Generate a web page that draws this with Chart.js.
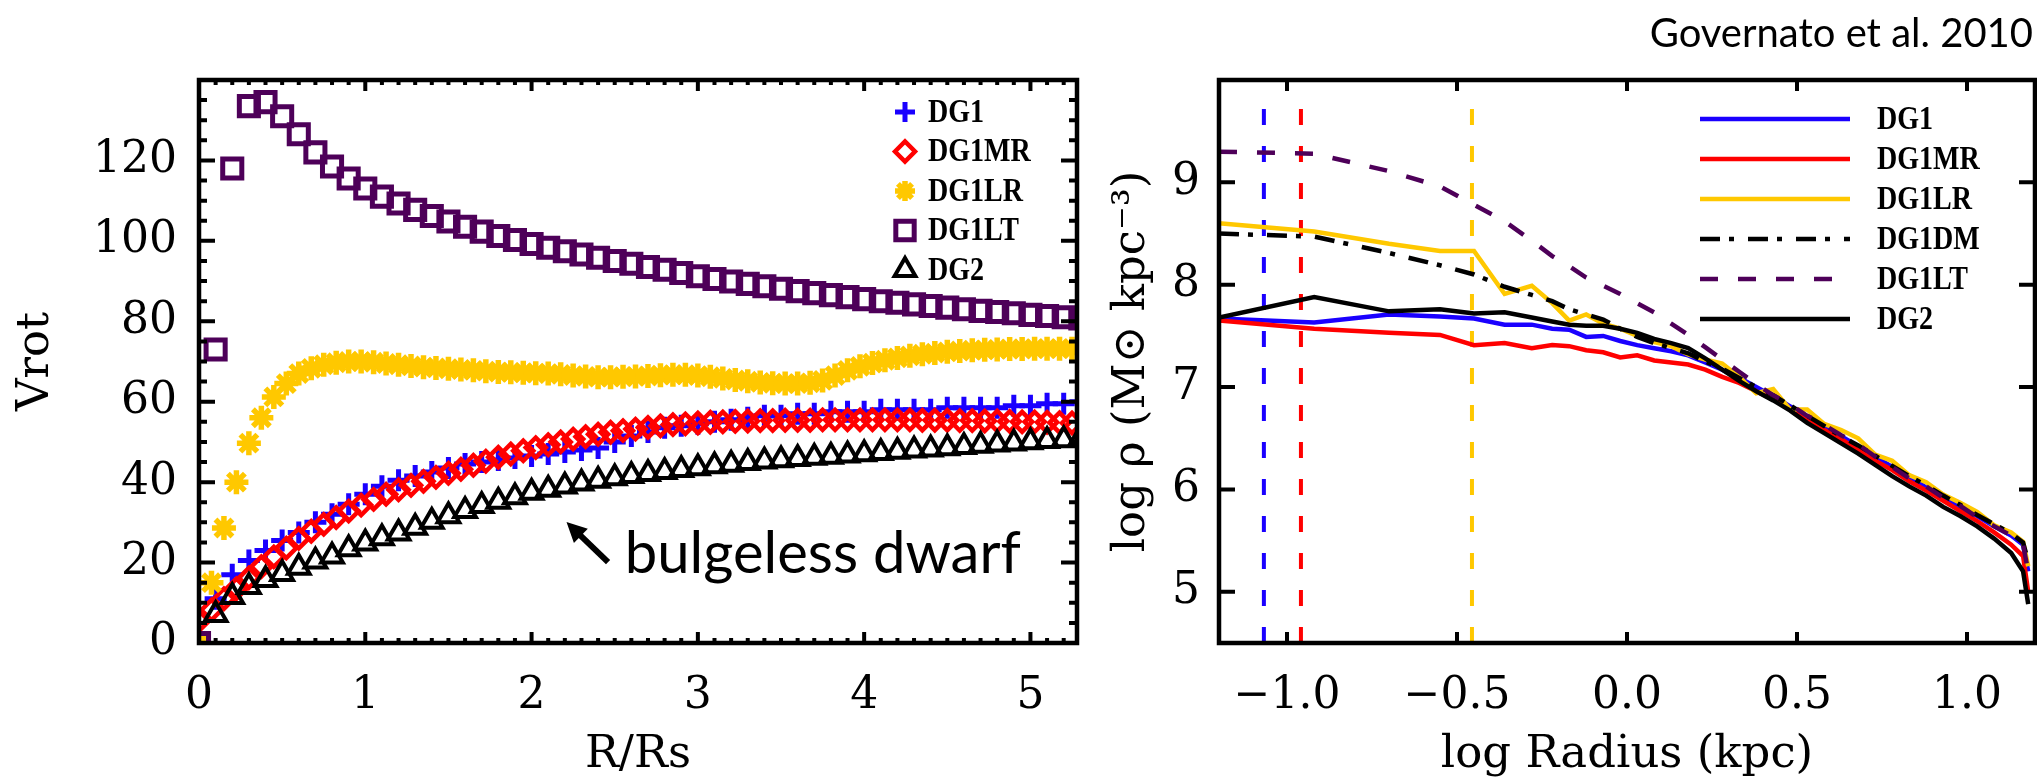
<!DOCTYPE html>
<html>
<head>
<meta charset="utf-8">
<script src="https://cdn.jsdelivr.net/npm/chart.js@4.4.0/dist/chart.umd.min.js"></script>
<style>
  html, body { margin: 0; padding: 0; background: #fff; }
  #wrap { position: relative; width: 2037px; height: 778px; overflow: hidden; }
  canvas { position: absolute; top: 0; }
  #left { left: 0; }
  #right { left: 1100px; }
</style>
</head>
<body>
<div id="wrap">
  <canvas id="left" width="1100" height="778"></canvas>
  <canvas id="right" width="937" height="778"></canvas>
</div>
<script>
// ---------- left panel: rotation curves (Vrot vs R/Rs) ----------
const rGrid = [0, 0.1, 0.2, 0.3, 0.4, 0.5, 0.6, 0.7, 0.8, 0.9, 1.0, 1.1, 1.2, 1.3, 1.4, 1.5, 1.6, 1.7, 1.8, 1.9,
  2.0, 2.1, 2.2, 2.3, 2.4, 2.5, 2.6, 2.7, 2.8, 2.9, 3.0, 3.1, 3.2, 3.3, 3.4, 3.5, 3.6, 3.7, 3.8, 3.9,
  4.0, 4.1, 4.2, 4.3, 4.4, 4.5, 4.6, 4.7, 4.8, 4.9, 5.0, 5.1, 5.2, 5.3];
const rGridFine = [0, 0.075, 0.15, 0.225, 0.3, 0.375, 0.45, 0.525, 0.6, 0.675, 0.75, 0.825, 0.9, 0.975,
  1.05, 1.125, 1.2, 1.275, 1.35, 1.425, 1.5, 1.575, 1.65, 1.725, 1.8, 1.875, 1.95, 2.025, 2.1, 2.175,
  2.25, 2.325, 2.4, 2.475, 2.55, 2.625, 2.7, 2.775, 2.85, 2.925, 3.0, 3.075, 3.15, 3.225, 3.3, 3.375,
  3.45, 3.525, 3.6, 3.675, 3.75, 3.825, 3.9, 3.975, 4.05, 4.125, 4.2, 4.275, 4.35, 4.425, 4.5, 4.575,
  4.65, 4.725, 4.8, 4.875, 4.95, 5.025, 5.1, 5.175, 5.25];

const vDG1 = [null, 11, 17, 20.5, 23, 25.5, 27.5, 30, 32, 34.5, 37, 39, 40.5, 41.5, 42.5, 43.5, 44.5, 45, 45.5, 46,
  46.5, 47, 47.5, 48, 48.5, 50, 51.5, 52.5, 53.5, 54, 54.5, 55, 55.5, 56, 56.5, 56.5, 57, 57, 57.5, 57.5,
  57.5, 58, 58, 58, 58, 58.5, 58.5, 58.5, 58.5, 59, 59, 59.5, 59.5, 60];
const vDG1MR = [5.5, 8.2, 11, 13.5, 16.2, 19, 21.4, 23.6, 26, 27.8, 29.5, 31.2, 32.8, 34.3,
  35.7, 37, 38.1, 39.2, 40.2, 41.2, 42.2, 43.2, 44.2, 45.2, 46.2, 47, 47.8, 48.6, 49.3, 50,
  50.7, 51.3, 51.9, 52.4, 52.8, 53.2, 53.6, 54, 54.3, 54.5, 54.7, 54.9, 55, 55.1, 55.2, 55.3,
  55.3, 55.4, 55.4, 55.4, 55.5, 55.5, 55.5, 55.5, 55.5, 55.5, 55.5, 55.5, 55.4, 55.4, 55.4, 55.3,
  55.3, 55.2, 55.2, 55.1, 55, 55, 54.9, 54.8, 54.7];
const vDG1LR = [0, 15, 28.6, 40, 49.7, 56, 61.2, 64.5, 67, 68.3, 69.2, 69.7, 70, 70,
  69.8, 69.5, 69.2, 68.9, 68.6, 68.4, 68.2, 68, 67.8, 67.6, 67.4, 67.3, 67.2, 67.1, 67, 66.8,
  66.5, 66.3, 66.1, 66.1, 66.2, 66.3, 66.4, 66.6, 66.7, 66.7, 66.5, 66.2, 65.8, 65.4, 65.1, 64.8,
  64.6, 64.5, 64.5, 64.7, 65.3, 66.5, 67.8, 68.8, 69.6, 70.3, 70.9, 71.4, 71.8, 72.1, 72.4, 72.6,
  72.8, 72.9, 73, 73.1, 73.1, 73.2, 73.2, 73.2, 73.2];
const vDG1LT = [0, 73, 118, 133.5, 134.5, 131, 126.5, 122, 118.5, 115.5, 113, 111, 109.3, 107.7, 106.2, 104.8,
  103.5, 102.3, 101.2, 100.2, 99.2, 98.3, 97.4, 96.6, 95.8, 95, 94.3, 93.5, 92.8, 92, 91.2, 90.5,
  89.9, 89.3, 88.7, 88.1, 87.5, 87, 86.5, 86, 85.5, 85, 84.6, 84.2, 83.8, 83.4, 83, 82.6, 82.3, 82,
  81.6, 81.3, 81, 80.7];
const vDG2 = [null, 7, 11.5, 14, 15.7, 17.2, 18.8, 20.3, 21.6, 23.4, 24.8, 26.1, 27.3, 28.7, 30.2, 31.6,
  32.9, 34.1, 35.2, 36.3, 37.4, 38.2, 39, 39.7, 40.4, 41, 41.6, 42.1, 42.6, 43.1, 43.5, 44, 44.4,
  44.8, 45.2, 45.5, 45.8, 46.1, 46.4, 46.7, 47, 47.3, 47.6, 47.9, 48.2, 48.5, 48.8, 49.1, 49.4,
  49.7, 50, 50.3, 50.5, 50.8];

const leftXTicks = [0, 1, 2, 3, 4, 5];
const leftYTicks = [0, 20, 40, 60, 80, 100, 120];

// ---------- right panel: density profiles (log rho vs log R) ----------
const logR = [-1.2, -0.92, -0.7, -0.55, -0.45, -0.36, -0.28, -0.22, -0.17, -0.12, -0.07, -0.02, 0.03, 0.08,
  0.13, 0.18, 0.23, 0.28, 0.33, 0.38, 0.43, 0.48, 0.53, 0.58, 0.63, 0.68, 0.73, 0.78, 0.83, 0.88,
  0.93, 0.98, 1.03, 1.08, 1.13, 1.165, 1.18];
const rhoDG1 = [7.67, 7.63, 7.71, 7.69, 7.67, 7.61, 7.61, 7.57, 7.56, 7.49, 7.50, 7.45, 7.41, 7.38, 7.35, 7.31,
  7.24, 7.17, 7.09, 7.0, 6.91, 6.81, 6.71, 6.61, 6.52, 6.42, 6.32, 6.22, 6.12, 6.02, 5.93, 5.83, 5.74,
  5.64, 5.55, 5.46, 5.2];
const rhoDG1MR = [7.65, 7.57, 7.53, 7.51, 7.41, 7.43, 7.38, 7.41, 7.40, 7.36, 7.34, 7.29, 7.31, 7.26, 7.24,
  7.22, 7.17, 7.1, 7.04, 6.96, 6.88, 6.79, 6.69, 6.58, 6.49, 6.39, 6.28, 6.19, 6.08, 5.99, 5.89, 5.79,
  5.69, 5.58, 5.46, 5.35, 5.0];
const rhoDG1LR = [8.60, 8.52, 8.40, 8.33, 8.33, 7.91, 7.99, 7.82, 7.65, 7.71, 7.62, 7.57, 7.5, 7.44, 7.40,
  7.32, 7.27, 7.23, 7.1, 6.94, 6.98, 6.78, 6.78, 6.64, 6.58, 6.5, 6.34, 6.28, 6.14, 6.07, 5.95, 5.87,
  5.78, 5.65, 5.58, 5.49, 5.25];
const rhoDG1DM = [8.50, 8.47, 8.31, 8.19, 8.10, 7.98, 7.90, 7.84, 7.76, 7.71, 7.66, 7.57, 7.49, 7.43, 7.38,
  7.33, 7.25, 7.18, 7.09, 7.0, 6.92, 6.82, 6.72, 6.62, 6.52, 6.43, 6.33, 6.23, 6.13, 6.04, 5.94, 5.85,
  5.75, 5.66, 5.57, 5.48, 5.3];
const rhoDG1LT = [9.30, 9.28, 9.11, 8.96, 8.78, 8.62, 8.43, 8.28, 8.18, 8.07, 7.99, 7.91, 7.82, 7.73, 7.62,
  7.51, 7.39, 7.27, 7.15, 7.03, 6.92, 6.83, 6.72, 6.63, 6.53, 6.44, 6.32, 6.22, 6.11, 6.03, 5.92, 5.84,
  5.73, 5.64, 5.55, 5.46, 5.2];
const rhoDG2 = [7.68, 7.88, 7.74, 7.76, 7.72, 7.73, 7.68, 7.64, 7.61, 7.60, 7.60, 7.57, 7.53, 7.47, 7.43,
  7.38, 7.28, 7.17, 7.06, 6.96, 6.87, 6.77, 6.65, 6.55, 6.45, 6.35, 6.24, 6.13, 6.03, 5.94, 5.83, 5.74,
  5.64, 5.52, 5.38, 5.2, 4.88];

// softening lengths (vertical dashed lines): DG1, DG1MR, DG1LR
const softX = [-1.068, -0.959, -0.456];
const softY = [4.5, 9.85];

const rightXTicks = [-1, -0.5, 0, 0.5, 1];
const rightXLabels = ['\u22121.0', '\u22120.5', '0.0', '0.5', '1.0'];
const rightYTicks = [5, 6, 7, 8, 9];

// colours
const BLUE = '#1a00ff';
const RED = '#ff0000';
const YELLOW = '#ffc800';
const PURPLE = '#4e0059';
const BLACK = '#000000';

const serif = '"DejaVu Serif", "Liberation Serif", serif';
const tickFont = { family: serif, size: 44, lineHeight: 1 };
const titleFont = { family: serif, size: 45, lineHeight: 1 };

function pts(xs, ys) {
  return xs.map((x, i) => ({ x: x, y: ys[i] }));
}

// box + inward ticks on all four sides, IDL style
function framePlugin(spec) {
  return {
    id: 'frame',
    afterDatasetsDraw(chart) {
      const { ctx, chartArea: a } = chart;
      const xs = chart.scales.x, ys = chart.scales.y;
      ctx.save();
      ctx.strokeStyle = '#000';
      ctx.lineWidth = 4;
      ctx.lineCap = 'butt';
      ctx.beginPath();
      const xt = (vals, len) => vals.forEach(v => {
        const p = xs.getPixelForValue(v);
        ctx.moveTo(p, a.bottom); ctx.lineTo(p, a.bottom - len);
        ctx.moveTo(p, a.top); ctx.lineTo(p, a.top + len);
      });
      const yt = (vals, len) => vals.forEach(v => {
        const p = ys.getPixelForValue(v);
        ctx.moveTo(a.left, p); ctx.lineTo(a.left + len, p);
        ctx.moveTo(a.right, p); ctx.lineTo(a.right - len, p);
      });
      xt(spec.xMajor, spec.xLen);
      yt(spec.yMajor, spec.yLen);
      if (spec.xMinorStep) {
        const minor = [];
        for (let v = xs.min; v <= xs.max + 1e-9; v += spec.xMinorStep) minor.push(Math.round(v * 1000) / 1000);
        xt(minor, spec.xMinLen);
      }
      if (spec.yMinorStep) {
        const minor = [];
        for (let v = ys.min; v <= ys.max + 1e-9; v += spec.yMinorStep) minor.push(v);
        yt(minor, spec.yMinLen);
      }
      ctx.stroke();
      ctx.lineWidth = 4.5;
      ctx.strokeRect(a.left, a.top, a.right - a.left, a.bottom - a.top);
      ctx.restore();
    }
  };
}

function drawLegendText(ctx, text, x, y) {
  ctx.save();
  ctx.translate(x, y);
  ctx.scale(0.85, 1);
  ctx.font = 'bold 33px "Liberation Serif", serif';
  ctx.fillStyle = '#000';
  ctx.textAlign = 'left';
  ctx.textBaseline = 'middle';
  ctx.fillText(text, 0, 1);
  ctx.restore();
}

const leftLegend = {
  id: 'leftLegend',
  afterDraw(chart) {
    const ctx = chart.ctx;
    chart.data.datasets.forEach((ds, i) => {
      const y = 112 + i * 39.5;
      ctx.save();
      ctx.strokeStyle = ds.borderColor;
      ctx.fillStyle = 'rgba(0,0,0,0)';
      ctx.lineWidth = ds.pointBorderWidth;
      Chart.helpers.drawPoint(ctx, {
        pointStyle: ds.pointStyle, radius: ds.legendRadius, borderWidth: ds.pointBorderWidth, rotation: 0
      }, 905, y);
      ctx.restore();
      drawLegendText(ctx, ds.label, 928, y);
    });
  }
};

const dwarfNote = {
  id: 'dwarfNote',
  afterDraw(chart) {
    const { ctx } = chart;
    const xs = chart.scales.x, ys = chart.scales.y;
    const tipX = xs.getPixelForValue(2.21), tipY = ys.getPixelForValue(30.1);
    const tailX = xs.getPixelForValue(2.46), tailY = ys.getPixelForValue(20.1);
    const ang = Math.atan2(tipY - tailY, tipX - tailX);
    ctx.save();
    ctx.strokeStyle = '#000';
    ctx.fillStyle = '#000';
    ctx.lineWidth = 6;
    ctx.beginPath();
    ctx.moveTo(tailX, tailY);
    ctx.lineTo(tipX - 12 * Math.cos(ang), tipY - 12 * Math.sin(ang));
    ctx.stroke();
    ctx.beginPath();
    ctx.moveTo(tipX, tipY);
    ctx.lineTo(tipX - 20 * Math.cos(ang) + 10 * Math.sin(ang), tipY - 20 * Math.sin(ang) - 10 * Math.cos(ang));
    ctx.lineTo(tipX - 20 * Math.cos(ang) - 10 * Math.sin(ang), tipY - 20 * Math.sin(ang) + 10 * Math.cos(ang));
    ctx.closePath();
    ctx.fill();
    ctx.font = '58px Lato, "Open Sans", sans-serif';
    ctx.textAlign = 'left';
    ctx.textBaseline = 'alphabetic';
    ctx.fillText('bulgeless dwarf', xs.getPixelForValue(2.56), ys.getPixelForValue(17.4));
    ctx.restore();
  }
};

const leftChart = new Chart(document.getElementById('left'), {
  type: 'scatter',
  data: {
    datasets: [
      { label: 'DG1', data: pts(rGrid, vDG1), pointStyle: 'cross', pointRadius: 11, legendRadius: 10, pointBorderWidth: 5,
        borderColor: BLUE, backgroundColor: 'rgba(0,0,0,0)', order: 4, clip: 0 },
      { label: 'DG1MR', data: pts(rGridFine, vDG1MR), pointStyle: 'rectRot', pointRadius: 10, legendRadius: 10, pointBorderWidth: 4.5,
        borderColor: RED, backgroundColor: 'rgba(0,0,0,0)', order: 3, clip: 0 },
      { label: 'DG1LR', data: pts(rGridFine, vDG1LR), pointStyle: 'star', pointRadius: 12, legendRadius: 10, pointBorderWidth: 5.5,
        borderColor: YELLOW, backgroundColor: 'rgba(0,0,0,0)', order: 2, clip: 0 },
      { label: 'DG1LT', data: pts(rGrid, vDG1LT), pointStyle: 'rect', pointRadius: 13.5, legendRadius: 13, pointBorderWidth: 5,
        borderColor: PURPLE, backgroundColor: 'rgba(0,0,0,0)', order: 1, clip: 0 },
      { label: 'DG2', data: pts(rGrid, vDG2), pointStyle: 'triangle', pointRadius: 12.5, legendRadius: 12, pointBorderWidth: 4,
        borderColor: BLACK, backgroundColor: 'rgba(0,0,0,0)', order: 0, clip: 0 }
    ]
  },
  options: {
    responsive: false,
    animation: false,
    devicePixelRatio: 1,
    layout: { padding: { left: 0, right: 23, top: 80, bottom: 0 } },
    plugins: { legend: { display: false }, tooltip: { enabled: false } },
    elements: { point: { hoverRadius: 0 } },
    scales: {
      x: {
        type: 'linear', min: 0, max: 5.28,
        afterBuildTicks: s => { s.ticks = leftXTicks.map(v => ({ value: v })); },
        afterFit: s => { s.height = 135; },
        grid: { display: false, drawTicks: false },
        border: { display: false },
        ticks: { font: tickFont, color: '#000', padding: 32, maxRotation: 0, callback: v => String(v) },
        title: { display: true, text: 'R/Rs', font: titleFont, color: '#000', padding: { top: 0, bottom: 0 } }
      },
      y: {
        type: 'linear', min: 0, max: 140,
        afterBuildTicks: s => { s.ticks = leftYTicks.map(v => ({ value: v })); },
        afterFit: s => { s.width = 199; },
        grid: { display: false, drawTicks: false },
        border: { display: false },
        ticks: { font: tickFont, color: '#000', padding: 22, callback: v => String(v) },
        title: { display: true, text: 'Vrot', font: titleFont, color: '#000', padding: { top: 14, bottom: 0 } }
      }
    }
  },
  plugins: [
    framePlugin({ xMajor: leftXTicks, xLen: 11, xMinorStep: 0.1, xMinLen: 5,
      yMajor: leftYTicks, yLen: 16, yMinorStep: 5, yMinLen: 8 }),
    leftLegend, dwarfNote
  ]
});

const rightLegend = {
  id: 'rightLegend',
  afterDraw(chart) {
    const ctx = chart.ctx;
    let row = 0;
    chart.data.datasets.forEach(ds => {
      if (ds.isMarker) return;
      const y = 119 + row * 40;
      ctx.save();
      ctx.strokeStyle = ds.borderColor;
      ctx.lineWidth = ds.borderWidth;
      ctx.setLineDash(ds.borderDash || []);
      ctx.beginPath();
      ctx.moveTo(600, y);
      ctx.lineTo(750, y);
      ctx.stroke();
      ctx.restore();
      drawLegendText(ctx, ds.label, 777, y);
      row++;
    });
    // citation in the top right corner
    ctx.save();
    ctx.font = '40px Lato, "Open Sans", sans-serif';
    ctx.fillStyle = '#000';
    ctx.textAlign = 'right';
    ctx.textBaseline = 'alphabetic';
    ctx.fillText('Governato et al. 2010', 933, 47);
    ctx.restore();
  }
};

const lineDs = (label, ys, color, order, dash) => ({
  label: label, data: pts(logR, ys), showLine: true, pointRadius: 0, borderColor: color,
  backgroundColor: color, borderWidth: 4.5, borderDash: dash || [], order: order, clip: 0, tension: 0
});
const markerDs = (x, color) => ({
  isMarker: true, data: [{ x: x, y: softY[0] }, { x: x, y: softY[1] }], showLine: true, pointRadius: 0,
  borderColor: color, borderWidth: 4, borderDash: [16, 21], order: 10, clip: 0
});

const rightChart = new Chart(document.getElementById('right'), {
  type: 'scatter',
  data: {
    datasets: [
      lineDs('DG1', rhoDG1, BLUE, 5),
      lineDs('DG1MR', rhoDG1MR, RED, 4),
      lineDs('DG1LR', rhoDG1LR, YELLOW, 3),
      lineDs('DG1DM', rhoDG1DM, BLACK, 2, [20, 9, 5, 14]),
      lineDs('DG1LT', rhoDG1LT, PURPLE, 1, [18, 20]),
      lineDs('DG2', rhoDG2, BLACK, 0),
      markerDs(softX[0], BLUE),
      markerDs(softX[1], RED),
      markerDs(softX[2], YELLOW)
    ]
  },
  options: {
    responsive: false,
    animation: false,
    devicePixelRatio: 1,
    layout: { padding: { left: 0, right: 2, top: 80, bottom: 0 } },
    plugins: { legend: { display: false }, tooltip: { enabled: false } },
    scales: {
      x: {
        type: 'linear', min: -1.2, max: 1.2,
        afterBuildTicks: s => { s.ticks = rightXTicks.map(v => ({ value: v })); },
        afterFit: s => { s.height = 135; },
        grid: { display: false, drawTicks: false },
        border: { display: false },
        ticks: { font: tickFont, color: '#000', padding: 32, maxRotation: 0,
          callback: (v, i) => rightXLabels[i] },
        title: { display: true, text: 'log Radius (kpc)', font: titleFont, color: '#000', padding: { top: 0, bottom: 0 } }
      },
      y: {
        type: 'linear', min: 4.5, max: 10,
        afterBuildTicks: s => { s.ticks = rightYTicks.map(v => ({ value: v })); },
        afterFit: s => { s.width = 119; },
        grid: { display: false, drawTicks: false },
        border: { display: false },
        ticks: { font: tickFont, color: '#000', padding: 19, callback: v => String(v) },
        title: { display: true, text: 'log \u03c1 (M\u2299 kpc\u207b\u00b3)', font: titleFont, color: '#000',
          padding: { top: 10, bottom: 0 } }
      }
    }
  },
  plugins: [
    framePlugin({ xMajor: rightXTicks, xLen: 11, yMajor: rightYTicks, yLen: 16 }),
    rightLegend
  ]
});
</script>
</body>
</html>
